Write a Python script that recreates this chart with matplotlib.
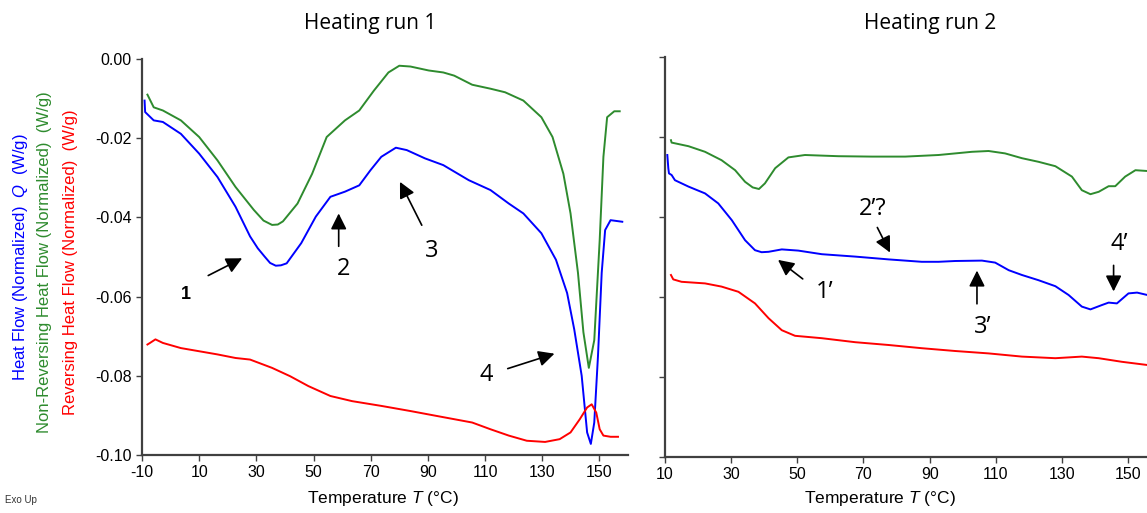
import matplotlib
matplotlib.use('Agg')
import matplotlib.pyplot as plt

plt.rcParams['font.family'] = ['Liberation Sans', 'DejaVu Sans']
plt.rcParams['mathtext.fontset'] = 'custom'
plt.rcParams['mathtext.rm'] = 'Liberation Sans'
plt.rcParams['mathtext.it'] = 'Liberation Sans:italic'
plt.rcParams['axes.unicode_minus'] = False

# ---- Heating run 1 ----
run1_nrev_T = [-8.1, -5.9, -2.7, 3.6, 10, 16.4, 22.7, 29.1, 32.5, 35.5, 37.5, 39.3, 44.4, 49.5,
               54.6, 61, 66, 71.1, 76.2, 80, 83.9, 90.3, 95.4, 99.2, 105.5, 111.9, 117, 123.4,
               129.7, 133.6, 137.4, 139.9, 142.5, 144.4, 146.3, 148.2, 150.1, 151.4, 152.7,
               155.2, 157.1]
run1_nrev = [-0.009, -0.0122, -0.013, -0.0155, -0.0197, -0.0256, -0.0323, -0.0381, -0.0408,
             -0.0419, -0.0418, -0.041, -0.0365, -0.029, -0.0197, -0.0155, -0.013, -0.008,
             -0.0034, -0.0017, -0.0019, -0.0029, -0.0034, -0.0042, -0.0065, -0.0075, -0.0084,
             -0.0105, -0.0147, -0.0197, -0.029, -0.039, -0.054, -0.069, -0.078, -0.071,
             -0.0457, -0.0247, -0.0147, -0.0132, -0.0132]

run1_hf_T = [-9.1, -8.9, -5.9, -2.7, 3.6, 10, 16.4, 22.7, 27.8, 30.5, 32.9, 34.8, 36.8, 38.6,
             40.6, 45.7, 50.8, 55.9, 61, 66, 69.9, 73.7, 78.8, 82.6, 89, 95.4, 104.3, 111.9,
             118.3, 123.4, 129.7, 134.8, 138.7, 141.2, 143.8, 145.7, 147, 148.2, 149.5, 150.8,
             152, 153.9, 158]
run1_hf = [-0.0105, -0.0134, -0.0155, -0.0159, -0.0189, -0.0239, -0.0298, -0.0373, -0.0448,
           -0.0478, -0.0499, -0.0515, -0.0522, -0.0521, -0.0516, -0.0465, -0.0398, -0.0348,
           -0.0335, -0.0319, -0.0281, -0.0247, -0.0224, -0.023, -0.0251, -0.0268, -0.0306,
           -0.0331, -0.0365, -0.039, -0.044, -0.0507, -0.0591, -0.0683, -0.08, -0.0943,
           -0.0972, -0.0918, -0.075, -0.054, -0.0432, -0.0407, -0.0411]

run1_rev_T = [-8.1, -7.2, -5.3, -2.7, 3.6, 10, 16.4, 22.7, 27.8, 35.5, 41.8, 48.2, 55.9, 63.5,
              73.7, 83.9, 92.8, 105.5, 111.9, 118.3, 124.6, 131, 136.1, 139.9, 143.1, 145.7,
              147.3, 148.9, 150.1, 151.4, 153.9, 156.5]
run1_rev = [-0.0721, -0.0717, -0.0708, -0.0717, -0.073, -0.0738, -0.0746, -0.0755, -0.0759,
            -0.078, -0.0801, -0.0826, -0.0851, -0.0864, -0.0876, -0.0889, -0.0901, -0.0918,
            -0.0935, -0.0951, -0.0964, -0.0967, -0.096, -0.0943, -0.091, -0.088, -0.0872,
            -0.0893, -0.0935, -0.0951, -0.0954, -0.0954]

# ---- Heating run 2 ----
run2_nrev_T = [11.8, 12, 17.1, 22.1, 27.1, 31.2, 34.2, 36.5, 38.4, 40.2, 43.3, 47.3, 52.3, 62.4,
               72.5, 82.6, 92.7, 102.8, 107.8, 112.8, 117.9, 122.9, 128, 133, 136, 138.6, 141.1,
               144.1, 146.1, 149.1, 152.2, 155.8]
run2_nrev = [-0.0208, -0.0214, -0.0223, -0.0237, -0.0258, -0.0283, -0.0312, -0.0326, -0.033,
             -0.0316, -0.0278, -0.0251, -0.0245, -0.0248, -0.0249, -0.0249, -0.0245, -0.0237,
             -0.0235, -0.0241, -0.0253, -0.0262, -0.0273, -0.0299, -0.0333, -0.0343, -0.0337,
             -0.0323, -0.0323, -0.0299, -0.0283, -0.0285]

run2_hf_T = [10.7, 11, 11.2, 12, 13, 17.1, 22.1, 26.1, 30.2, 34.2, 37.2, 39.2, 41.3, 45.3, 50.3,
             57.4, 67.5, 77.6, 87.6, 92.7, 97.7, 105.8, 109.8, 113.9, 117.9, 122.9, 128, 132,
             136, 138.6, 142.1, 144.1, 146.6, 150.1, 152.7, 155.8]
run2_hf = [-0.0245, -0.0278, -0.0291, -0.0295, -0.0308, -0.0324, -0.0341, -0.0366, -0.0408,
           -0.0458, -0.0483, -0.0488, -0.0487, -0.0481, -0.0484, -0.0493, -0.0499, -0.0506,
           -0.0512, -0.0512, -0.051, -0.0509, -0.0514, -0.0533, -0.0545, -0.0558, -0.0573,
           -0.0595, -0.0624, -0.0631, -0.062, -0.0614, -0.0616, -0.0591, -0.0589, -0.0595]

run2_rev_T = [11.8, 12.5, 15, 22.1, 27.1, 32.2, 37.2, 41.3, 45.3, 49.3, 57.4, 67.5, 77.6, 87.6,
              97.7, 107.8, 117.9, 128, 136, 141.1, 148.1, 155.8]
run2_rev = [-0.0545, -0.0556, -0.0562, -0.0566, -0.0574, -0.0587, -0.0616, -0.0653, -0.0683,
            -0.0697, -0.0703, -0.0713, -0.072, -0.0728, -0.0735, -0.0741, -0.0749, -0.0753,
            -0.0749, -0.0753, -0.0762, -0.077]

# annotation labels: (text, text xy, arrow tail, arrow head)
run1_notes = [('2', (60.6, -0.0531), (58.8, -0.048), (58.8, -0.0383)),
              ('3', (91.3, -0.0486), (88.3, -0.0426), (79.8, -0.0304)),
              ('4', (110.4, -0.0799), (117, -0.0784), (135.2, -0.0742))]
run2_notes = [('2\u2019?', (72.7, -0.038), (73.8, -0.042), (78.4, -0.0495)),
              ('1\u2019', (58.2, -0.0588), (52.3, -0.0559), (43.5, -0.0503)),
              ('3\u2019', (106, -0.0676), (104.3, -0.0624), (104.3, -0.0527)),
              ('4\u2019', (147.4, -0.0468), (145.6, -0.0514), (145.6, -0.0593))]

W, H = 1147, 513
blue, green, red = '#0000ff', '#2e8b2e', '#ff0000'
spine_c = '#404040'

fig = plt.figure(figsize=(W / 100, H / 100), dpi=100)


def px_axes(x0, y0, x1, y1):
    return fig.add_axes([x0 / W, 1 - y1 / H, (x1 - x0) / W, (y1 - y0) / H])


def style(ax):
    for s in ['top', 'right']:
        ax.spines[s].set_visible(False)
    for s in ['left', 'bottom']:
        ax.spines[s].set_color(spine_c)
        ax.spines[s].set_linewidth(1.6)
    ax.tick_params(direction='out', length=4, width=1, color=spine_c, labelsize=11.5)
    ax.set_ylim(-0.1, 0.0)
    ax.set_yticks([0, -0.02, -0.04, -0.06, -0.08, -0.1])


def arrow(ax, tail, head):
    ax.annotate('', xy=head, xytext=tail,
                arrowprops=dict(arrowstyle='-|>', color='black', lw=1.2, mutation_scale=24))


ax1 = px_axes(142, 59, 628, 455)
ax1.plot(run1_nrev_T, run1_nrev, color=green, lw=1.4)
ax1.plot(run1_hf_T, run1_hf, color=blue, lw=1.4)
ax1.plot(run1_rev_T, run1_rev, color=red, lw=1.4)
style(ax1)
ax1.set_xlim(-10, 160)
ax1.set_xticks(range(-10, 151, 20))
ax1.set_yticklabels(['0.00', '-0.02', '-0.04', '-0.06', '-0.08', '-0.10'])

ax1.text(5.5, -0.0595, '1', fontsize=13, weight='bold', ha='center', va='center')
arrow(ax1, (12.3, -0.055), (25.9, -0.050))
for t, txy, tail, head in run1_notes:
    ax1.text(txy[0], txy[1], t, fontsize=17, family='Open Sans', ha='center', va='center')
    arrow(ax1, tail, head)

ax2 = px_axes(665, 57, 1148, 457)
ax2.plot(run2_nrev_T, run2_nrev, color=green, lw=1.4)
ax2.plot(run2_hf_T, run2_hf, color=blue, lw=1.4)
ax2.plot(run2_rev_T, run2_rev, color=red, lw=1.4)
style(ax2)
ax2.set_xlim(10, 156)
ax2.set_xticks(range(10, 151, 20))
ax2.set_yticklabels([])
for t, txy, tail, head in run2_notes:
    ax2.text(txy[0], txy[1], t, fontsize=17, family='Open Sans', ha='center', va='center')
    arrow(ax2, tail, head)

# titles, axis labels
fig.text(370 / W, 1 - 24 / H, 'Heating run 1', fontsize=15, family='Open Sans',
         ha='center', va='center')
fig.text(930 / W, 1 - 24 / H, 'Heating run 2', fontsize=15, family='Open Sans',
         ha='center', va='center')
fig.text(383 / W, 1 - 498 / H, 'Temperature $\\it{T}$ (\u00b0C)', fontsize=12.5,
         ha='center', va='center')
fig.text(880 / W, 1 - 498 / H, 'Temperature $\\it{T}$ (\u00b0C)', fontsize=12.5,
         ha='center', va='center')
fig.text(21 / W, 1 - 257 / H, 'Heat Flow (Normalized)  $\\it{Q}$  (W/g)', color=blue,
         fontsize=12, rotation=90, ha='center', va='center')
fig.text(45 / W, 1 - 262 / H, 'Non-Reversing Heat Flow (Normalized)  (W/g)', color=green,
         fontsize=12, rotation=90, ha='center', va='center')
fig.text(71 / W, 1 - 262 / H, 'Reversing Heat Flow (Normalized)  (W/g)', color=red,
         fontsize=12, rotation=90, ha='center', va='center')
fig.text(5 / W, 1 - 500 / H, 'Exo Up', fontsize=7, color='#333333', ha='left', va='center')

fig.savefig('out.png', dpi=100)
